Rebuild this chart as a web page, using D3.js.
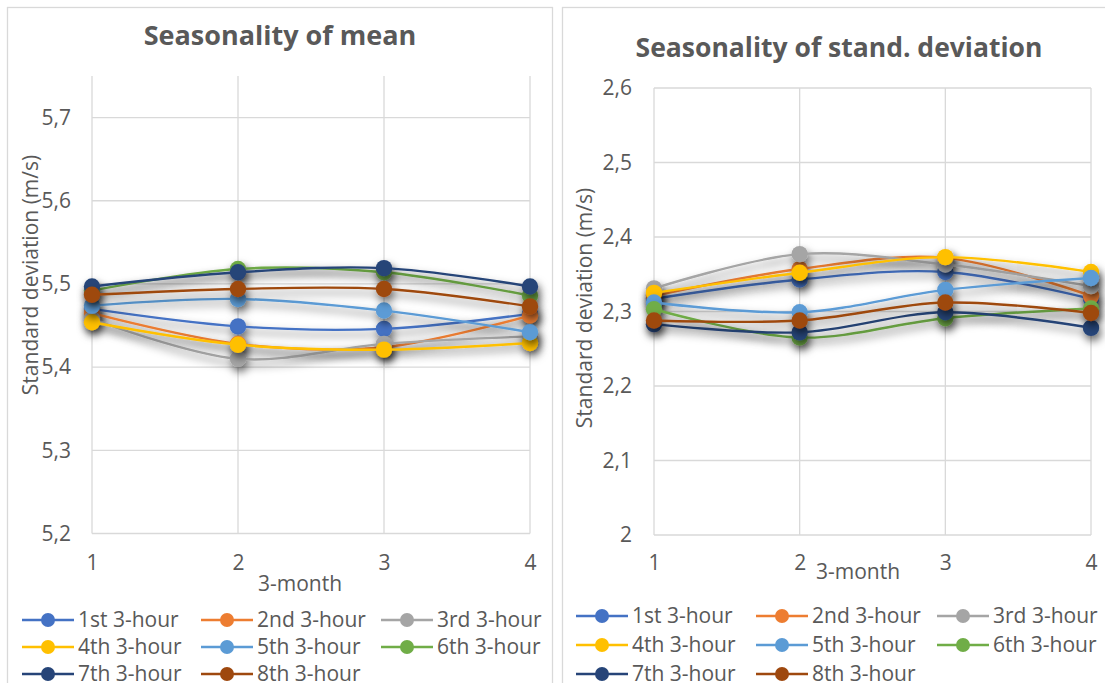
<!DOCTYPE html>
<html>
<head>
<meta charset="utf-8">
<script src="https://cdn.jsdelivr.net/npm/d3@7"></script>
<style>
  html, body { margin: 0; padding: 0; background: #fff; }
  svg { display: block; font-family: "Open Sans", Lato, sans-serif; }
</style>
</head>
<body>
<svg id="chart" width="1105" height="683"></svg>
<script>
// Three-month periods on the x axis
const categories = [1, 2, 3, 4];

// Series labels and colours (one per 3-hour block of the day)
const seriesNames = ["1st 3-hour", "2nd 3-hour", "3rd 3-hour", "4th 3-hour",
                     "5th 3-hour", "6th 3-hour", "7th 3-hour", "8th 3-hour"];
const seriesColors = ["#4472C4", "#ED7D31", "#A5A5A5", "#FFC000",
                      "#5B9BD5", "#70AD47", "#264478", "#9E480E"];

// Mean wind speed (m/s) per 3-month period
const mean1 = [5.470, 5.449, 5.446, 5.464];
const mean2 = [5.465, 5.428, 5.424, 5.462];
const mean3 = [5.458, 5.410, 5.428, 5.437];
const mean4 = [5.454, 5.427, 5.421, 5.429];
const mean5 = [5.474, 5.482, 5.468, 5.442];
const mean6 = [5.492, 5.518, 5.514, 5.486];
const mean7 = [5.497, 5.514, 5.519, 5.497];
const mean8 = [5.487, 5.494, 5.494, 5.473];

// Standard deviation (m/s) per 3-month period
const sd1 = [2.317, 2.343, 2.353, 2.317];
const sd2 = [2.321, 2.357, 2.372, 2.321];
const sd3 = [2.331, 2.377, 2.363, 2.334];
const sd4 = [2.325, 2.352, 2.373, 2.353];
const sd5 = [2.312, 2.299, 2.329, 2.345];
const sd6 = [2.303, 2.265, 2.291, 2.304];
const sd7 = [2.283, 2.272, 2.299, 2.278];
const sd8 = [2.288, 2.288, 2.312, 2.298];

// Axis ticks
const meanTicks = [5.2, 5.3, 5.4, 5.5, 5.6, 5.7];
const sdTicks = [2.0, 2.1, 2.2, 2.3, 2.4, 2.5, 2.6];

const meanSeries = [mean1, mean2, mean3, mean4, mean5, mean6, mean7, mean8];
const sdSeries = [sd1, sd2, sd3, sd4, sd5, sd6, sd7, sd8];

const svg = d3.select("#chart");
const textColor = "#595959";
const gridColor = "#d9d9d9";
const labelSize = 21;
const fmt = v => (Math.round(v * 10) / 10).toString().replace(".", ",");

// Soft drop shadow used on lines and markers
const defs = svg.append("defs");
const shadow = defs.append("filter").attr("id", "shadow")
  .attr("x", "-50%").attr("y", "-50%").attr("width", "200%").attr("height", "200%");
shadow.append("feGaussianBlur").attr("in", "SourceAlpha").attr("stdDeviation", 4.5).attr("result", "blur");
shadow.append("feOffset").attr("in", "blur").attr("dx", 1.5).attr("dy", 5).attr("result", "off");
shadow.append("feFlood").attr("flood-color", "#000").attr("flood-opacity", 0.6).attr("result", "col");
shadow.append("feComposite").attr("in", "col").attr("in2", "off").attr("operator", "in").attr("result", "sh");
const merge = shadow.append("feMerge");
merge.append("feMergeNode").attr("in", "sh");
merge.append("feMergeNode").attr("in", "SourceGraphic");

function drawPanel(cfg) {
  const g = svg.append("g");

  // panel frame
  g.append("rect")
    .attr("x", cfg.frame[0]).attr("y", cfg.frame[1])
    .attr("width", cfg.frame[2]).attr("height", cfg.frame[3])
    .attr("fill", "#fff").attr("stroke", gridColor).attr("stroke-width", 1.3);

  // title
  g.append("text")
    .attr("x", cfg.titleX).attr("y", cfg.titleY)
    .attr("text-anchor", "middle")
    .attr("font-size", cfg.titleSize).attr("font-weight", 700)
    .attr("fill", textColor)
    .text(cfg.title);

  const x = d3.scalePoint().domain(categories).range([cfg.x0, cfg.x1]);
  const y = d3.scaleLinear().domain(cfg.domain).range([cfg.yBottom, cfg.yTop]);

  // horizontal grid
  g.append("g").selectAll("line").data(cfg.ticks).join("line")
    .attr("x1", cfg.x0).attr("x2", cfg.x1)
    .attr("y1", d => y(d)).attr("y2", d => y(d))
    .attr("stroke", gridColor).attr("stroke-width", 1.3);

  // vertical grid
  g.append("g").selectAll("line").data(categories).join("line")
    .attr("x1", d => x(d)).attr("x2", d => x(d))
    .attr("y1", cfg.yTop).attr("y2", cfg.yBottom)
    .attr("stroke", gridColor).attr("stroke-width", 1.3);

  // y axis tick labels
  const yAxis = d3.axisLeft(y).tickValues(cfg.ticks).tickFormat(fmt).tickSize(0).tickPadding(0);
  const ya = g.append("g").attr("transform", `translate(${cfg.yLabelX},0)`).call(yAxis);
  ya.select(".domain").remove();
  ya.selectAll("text").attr("font-size", labelSize).attr("fill", textColor)
    .attr("font-family", "\"Open Sans\", Lato, sans-serif");

  // x axis tick labels
  const xAxis = d3.axisBottom(x).tickSize(0).tickPadding(0);
  const xa = g.append("g").attr("transform", `translate(0,${cfg.xLabelY})`).call(xAxis);
  xa.select(".domain").remove();
  xa.selectAll("text").attr("font-size", labelSize).attr("fill", textColor)
    .attr("font-family", "\"Open Sans\", Lato, sans-serif");

  // axis titles
  g.append("text")
    .attr("x", cfg.xTitle[0]).attr("y", cfg.xTitle[1])
    .attr("text-anchor", "middle").attr("font-size", labelSize).attr("fill", textColor)
    .text("3-month");
  g.append("text")
    .attr("transform", `translate(${cfg.yTitle[0]},${cfg.yTitle[1]}) rotate(-90)`)
    .attr("text-anchor", "middle").attr("font-size", labelSize).attr("fill", textColor)
    .text("Standard deviation (m/s)");

  // series: smoothed line plus circle markers, each with a soft shadow
  const line = d3.line()
    .x((d, i) => x(categories[i]))
    .y(d => y(d))
    .curve(d3.curveCatmullRom.alpha(0.5));

  cfg.series.forEach((vals, si) => {
    const sg = g.append("g").attr("filter", "url(#shadow)");
    sg.append("path")
      .attr("d", line(vals))
      .attr("fill", "none")
      .attr("stroke", seriesColors[si])
      .attr("stroke-width", 2.4);
    sg.selectAll("circle").data(vals).join("circle")
      .attr("cx", (d, i) => x(categories[i]))
      .attr("cy", d => y(d))
      .attr("r", 8.2)
      .attr("fill", seriesColors[si]);
  });

  // legend: three columns, three rows
  const lg = g.append("g");
  seriesNames.forEach((name, i) => {
    const col = i % 3, row = Math.floor(i / 3);
    const lx = cfg.legendCols[col], ly = cfg.legendRows[row];
    lg.append("line")
      .attr("x1", lx).attr("x2", lx + 52)
      .attr("y1", ly).attr("y2", ly)
      .attr("stroke", seriesColors[i]).attr("stroke-width", 2.4);
    lg.append("circle")
      .attr("cx", lx + 26).attr("cy", ly).attr("r", 7)
      .attr("fill", seriesColors[i]);
    lg.append("text")
      .attr("x", lx + 56).attr("y", ly)
      .attr("dy", "0.35em")
      .attr("font-size", labelSize).attr("fill", textColor)
      .text(name);
  });
}

drawPanel({
  frame: [7.5, 7.5, 545, 720],
  title: "Seasonality of mean",
  titleX: 280, titleY: 45, titleSize: 27,
  domain: [5.2, 5.75],
  ticks: meanTicks,
  x0: 92, x1: 530,
  yTop: 76, yBottom: 533.5,
  yLabelX: 71,
  xLabelY: 555,
  xTitle: [300, 591],
  yTitle: [38, 275],
  series: meanSeries,
  legendCols: [22, 201, 381],
  legendRows: [620, 647, 674]
});

drawPanel({
  frame: [562.5, 7.5, 600, 720],
  title: "Seasonality of stand. deviation",
  titleX: 839, titleY: 57, titleSize: 26.5,
  domain: [2.0, 2.6],
  ticks: sdTicks,
  x0: 654, x1: 1091,
  yTop: 88, yBottom: 535,
  yLabelX: 632,
  xLabelY: 555,
  xTitle: [858, 579],
  yTitle: [592, 308],
  series: sdSeries,
  legendCols: [576, 756, 937],
  legendRows: [616, 645, 674]
});
</script>
</body>
</html>
